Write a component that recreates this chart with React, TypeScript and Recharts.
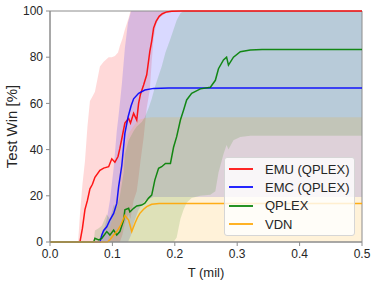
import { ComposedChart, Line, Area, XAxis, YAxis, ReferenceArea } from "recharts";

// EMU (QPLEX)
const emuX = [0, 0.045, 0.048, 0.052, 0.056, 0.06, 0.064, 0.068, 0.072, 0.08, 0.086, 0.094, 0.099, 0.104, 0.109, 0.112, 0.116, 0.12, 0.126, 0.129, 0.134, 0.139, 0.142, 0.145, 0.15, 0.155, 0.16, 0.163, 0.166, 0.17, 0.175, 0.18, 0.187, 0.195, 0.21, 0.5];
const emuMean = [0, 0, 0, 6, 14, 18, 23, 25, 28, 31, 32, 32.6, 36, 34.5, 37, 40.5, 46, 51.5, 53.5, 51.5, 55.7, 52.8, 60, 64, 68, 72.4, 82.5, 87, 92.6, 95.5, 97.7, 98.8, 99.6, 99.9, 100, 100];
const emuHigh = [0, 0, 12, 25, 35, 50, 61, 63, 65, 76, 78, 80, 80, 80.5, 82, 85, 88, 92, 97, 100, 100, 100, 100, 100, 100, 100, 100, 100, 100, 100, 100, 100, 100, 100, 100, 100];
const emuLow = [0, 0, 0, 0, 0, 0, 0, 0, 0, 0, 0, 0, 0, 0, 0, 0, 3, 8, 12, 10, 18, 22, 28, 35, 45, 58, 66, 78, 88, 94, 97, 98, 99.3, 99.8, 100, 100];

// EMC (QPLEX)
const emcX = [0, 0.08, 0.083, 0.086, 0.091, 0.096, 0.102, 0.107, 0.11, 0.115, 0.12, 0.125, 0.13, 0.134, 0.142, 0.152, 0.166, 0.19, 0.5];
const emcMean = [0, 0, 3, 5, 6.6, 9.5, 12.4, 16.7, 24, 33, 47, 54, 59, 62, 64.4, 65.8, 66.5, 66.7, 66.7];
const emcHigh = [0, 0, 3, 5, 10, 18, 32, 48, 55, 68, 84, 95, 100, 100, 100, 100, 100, 100, 100];
const emcLow = [0, 0, 0, 0, 0, 0, 0, 0, 0, 0, 0, 0, 3, 8, 14, 18, 19.5, 19.5, 19.5];

// QPLEX
const qplexX = [0, 0.07, 0.072, 0.078, 0.083, 0.091, 0.096, 0.102, 0.107, 0.112, 0.118, 0.12, 0.126, 0.128, 0.134, 0.139, 0.147, 0.152, 0.158, 0.163, 0.168, 0.174, 0.179, 0.185, 0.193, 0.198, 0.203, 0.209, 0.214, 0.219, 0.227, 0.241, 0.257, 0.265, 0.27, 0.278, 0.283, 0.286, 0.294, 0.305, 0.321, 0.34, 0.5];
const qplexMean = [0, 0, 1.6, 0.9, 1.6, 4.5, 3, 5.2, 3, 4.5, 9.5, 13.9, 14.6, 13, 14.6, 15.6, 16, 16.8, 19, 20.3, 26.8, 31.9, 32.6, 34, 34, 41, 45.6, 52.8, 57, 61.5, 64.4, 66.3, 67, 70, 75, 78.8, 80, 76.6, 80, 82.4, 83.1, 83.3, 83.3];
const qplexHigh = [0, 0, 5, 6, 7, 12, 10, 16, 15, 20, 30, 38, 44, 45, 48, 50, 52, 54, 58, 62, 67, 72, 76, 82, 88, 92, 96, 99, 100, 100, 100, 100, 100, 100, 100, 100, 100, 100, 100, 100, 100, 100, 100];
const qplexLow = [0, 0, 0, 0, 0, 0, 0, 0, 0, 0, 0, 0, 0, 0, 0, 0, 0, 0, 0, 0, 0, 0, 0, 0, 0, 0, 2, 10, 14, 17, 19, 20, 20.5, 22, 30, 38, 42, 40, 44, 45.5, 46, 46, 46];

// VDN
const vdnX = [0, 0.092, 0.096, 0.102, 0.107, 0.112, 0.116, 0.12, 0.126, 0.131, 0.136, 0.14, 0.144, 0.15, 0.155, 0.163, 0.175, 0.5];
const vdnMean = [0, 0, 1, 3, 4.5, 6.6, 9, 11.5, 9.5, 4.5, 8, 10.5, 12.4, 14.2, 15.3, 16.3, 16.7, 16.7];
const vdnHigh = [0, 0, 6, 12, 20, 30, 36, 42, 47, 49, 51, 52.5, 53, 53.5, 53.8, 54, 54, 54];
const vdnLow = [0, 0, 0, 0, 0, 0, 0, 0, 0, 0, 0, 0, 0, 0, 0, 0, 0, 0];

const xTicks = [0, 0.1, 0.2, 0.3, 0.4, 0.5];
const yTicks = [0, 20, 40, 60, 80, 100];

const build = (xs: number[], mean: number[], low: number[], high: number[]) =>
  xs.map((x, i) => ({ x, mean: mean[i], band: [low[i], high[i]] }));

const series = [
  { name: "EMU (QPLEX)", color: "#ff0000", data: build(emuX, emuMean, emuLow, emuHigh) },
  { name: "EMC (QPLEX)", color: "#0000ff", data: build(emcX, emcMean, emcLow, emcHigh) },
  { name: "QPLEX", color: "#008000", data: build(qplexX, qplexMean, qplexLow, qplexHigh) },
  { name: "VDN", color: "#ffa500", data: build(vdnX, vdnMean, vdnLow, vdnHigh) },
];

const FONT = "'Liberation Sans', Arial, sans-serif";
const SPINE = "#8c8c8c";
const tickStyle = { fontSize: 12, fill: "#262626", fontFamily: FONT };

export default function App() {
  return (
    <div style={{ position: "absolute", left: 0, top: 0, width: 374, height: 284, background: "#fff" }}>
      <ComposedChart width={374} height={284} margin={{ top: 11, right: 12, bottom: 12, left: 10 }}>
        <XAxis
          type="number"
          dataKey="x"
          domain={[0, 0.5]}
          ticks={xTicks}
          tickFormatter={(v: number) => v.toFixed(1)}
          height={30}
          stroke={SPINE}
          tickSize={4}
          tickMargin={3}
          tick={tickStyle}
          allowDuplicatedCategory={false}
          label={{ value: "T (mil)", position: "center", dy: 15, style: { fontSize: 13, fill: "#262626", fontFamily: FONT } }}
        />
        <YAxis
          type="number"
          domain={[0, 100]}
          ticks={yTicks}
          width={40}
          stroke={SPINE}
          tickSize={4}
          tickMargin={3}
          tick={tickStyle}
          label={{ value: "Test Win [%]", angle: -90, position: "center", dx: -18, style: { fontSize: 15, fill: "#262626", fontFamily: FONT, textAnchor: "middle" } }}
        />
        {series.map((s) => (
          <Area
            key={s.name + "-band"}
            data={s.data}
            dataKey="band"
            type="linear"
            stroke="none"
            fill={s.color}
            fillOpacity={0.15}
            isAnimationActive={false}
            activeDot={false}
          />
        ))}
        {series.map((s) => (
          <Line
            key={s.name}
            data={s.data}
            dataKey="mean"
            type="linear"
            stroke={s.color}
            strokeWidth={1.5}
            strokeOpacity={0.9}
            dot={false}
            activeDot={false}
            isAnimationActive={false}
          />
        ))}
        <ReferenceArea x1={0} x2={0.5} y1={0} y2={100} fill="none" stroke={SPINE} strokeWidth={1} />
      </ComposedChart>
      <div
        style={{
          position: "absolute",
          left: 224,
          top: 157,
          width: 131,
          height: 79,
          boxSizing: "border-box",
          border: "1px solid #d6d6d6",
          borderRadius: 3,
          background: "rgba(255,255,255,0.8)",
          paddingTop: 2,
          fontFamily: FONT,
          fontSize: 13,
          color: "#262626",
        }}
      >
        {series.map((s) => (
          <div key={s.name} style={{ display: "flex", alignItems: "center", height: 18.3 }}>
            <div style={{ width: 24, height: 2, background: s.color, marginLeft: 4, marginRight: 12, opacity: 0.85 }} />
            <span>{s.name}</span>
          </div>
        ))}
      </div>
    </div>
  );
}
